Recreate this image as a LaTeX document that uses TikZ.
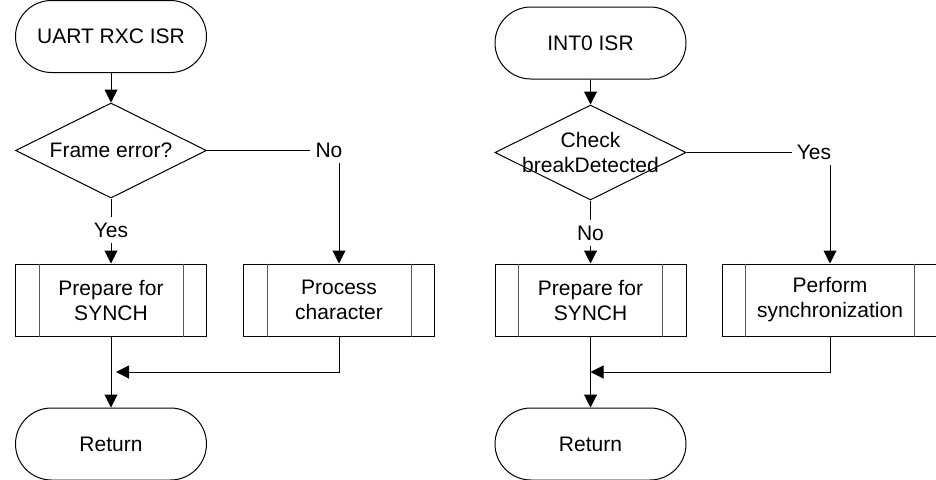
\documentclass[tikz,border=0pt]{standalone}
\usepackage{fontspec}
\setmainfont{Liberation Sans}
\usetikzlibrary{shapes.geometric,arrows.meta,calc}
\begin{document}
\begin{tikzpicture}[x=1pt,y=-1pt,
  base/.style={font=\fontsize{21}{25}\selectfont, align=center},
  term/.style={base, draw, line width=1pt, rounded corners=36pt, minimum width=191pt, minimum height=72pt, inner sep=0pt},
  dec/.style={draw, line width=1pt, shape=diamond, minimum width=191pt, minimum height=95pt, inner sep=0pt},
  proc/.style={base, draw, line width=1pt, minimum width=191pt, minimum height=72pt, inner sep=0pt},
  lbl/.style={base, inner sep=5pt},
  conn/.style={draw, line width=1pt},
  arr/.style={conn, -{Triangle[width=13pt,length=13pt]}},
  innerln/.style={draw, line width=1pt, black!65},
]
\useasboundingbox (0,0) rectangle (936,479);

% left chart
\node[term] (s1) at (111,36.5) {UART RXC ISR};
\node[dec, label={[base]center:Frame error?}] (d1) at (111,150.5) {};
\node[lbl] (no1) at (329,150.5) {No};
\node[lbl] (yes1) at (111,230) {Yes};
\node[proc] (p1) at (111,300) {Prepare for\\SYNCH};
\node[proc] (p2) at (339,300) {Process\\character};
\node[term] (r1) at (111,444) {Return};
\coordinate (m1) at ($(p1.south)!0.5!(r1.north)$);

% right chart
\node[term] (s2) at (590.5,43) {INT0 ISR};
\node[dec, label={[base]center:Check\\breakDetected}] (d2) at (590.5,152.5) {};
\node[lbl] (yes2) at (814,152.5) {Yes};
\node[lbl] (no2) at (590.5,233) {No};
\node[proc] (p3) at (590.5,300) {Prepare for\\SYNCH};
\node[proc, minimum width=216pt] (p4) at (830,300) {Perform\\synchronization};
\node[term] (r2) at (590.5,444) {Return};
\coordinate (m2) at ($(p3.south)!0.5!(r2.north)$);

% inner lines of predefined process boxes
\foreach \n in {p1,p2,p3,p4}
  \path[innerln] ([xshift=24pt]\n.north west) -- ([xshift=24pt]\n.south west)
                 ([xshift=-24pt]\n.north east) -- ([xshift=-24pt]\n.south east);

% connectors left
\draw[arr] (s1.south) -- (d1.north);
\draw[conn] (d1.east) -- (no1.west);
\draw[arr] (no1.south -| p2.north) -- (p2.north);
\draw[conn] (d1.south) -- (yes1.north);
\draw[arr] (yes1.south) -- (p1.north);
\draw[arr] (p1.south) -- (r1.north);
\draw[arr, shorten >=5pt] (p2.south) |- (m1);

% connectors right
\draw[arr] (s2.south) -- (d2.north);
\draw[conn] (d2.east) -- (yes2.west);
\draw[arr] (yes2.south -| p4.north) -- (p4.north);
\draw[conn] (d2.south) -- (no2.north);
\draw[arr] (no2.south) -- (p3.north);
\draw[arr] (p3.south) -- (r2.north);
\draw[arr] (p4.south) |- (m2);
\end{tikzpicture}
\end{document}
